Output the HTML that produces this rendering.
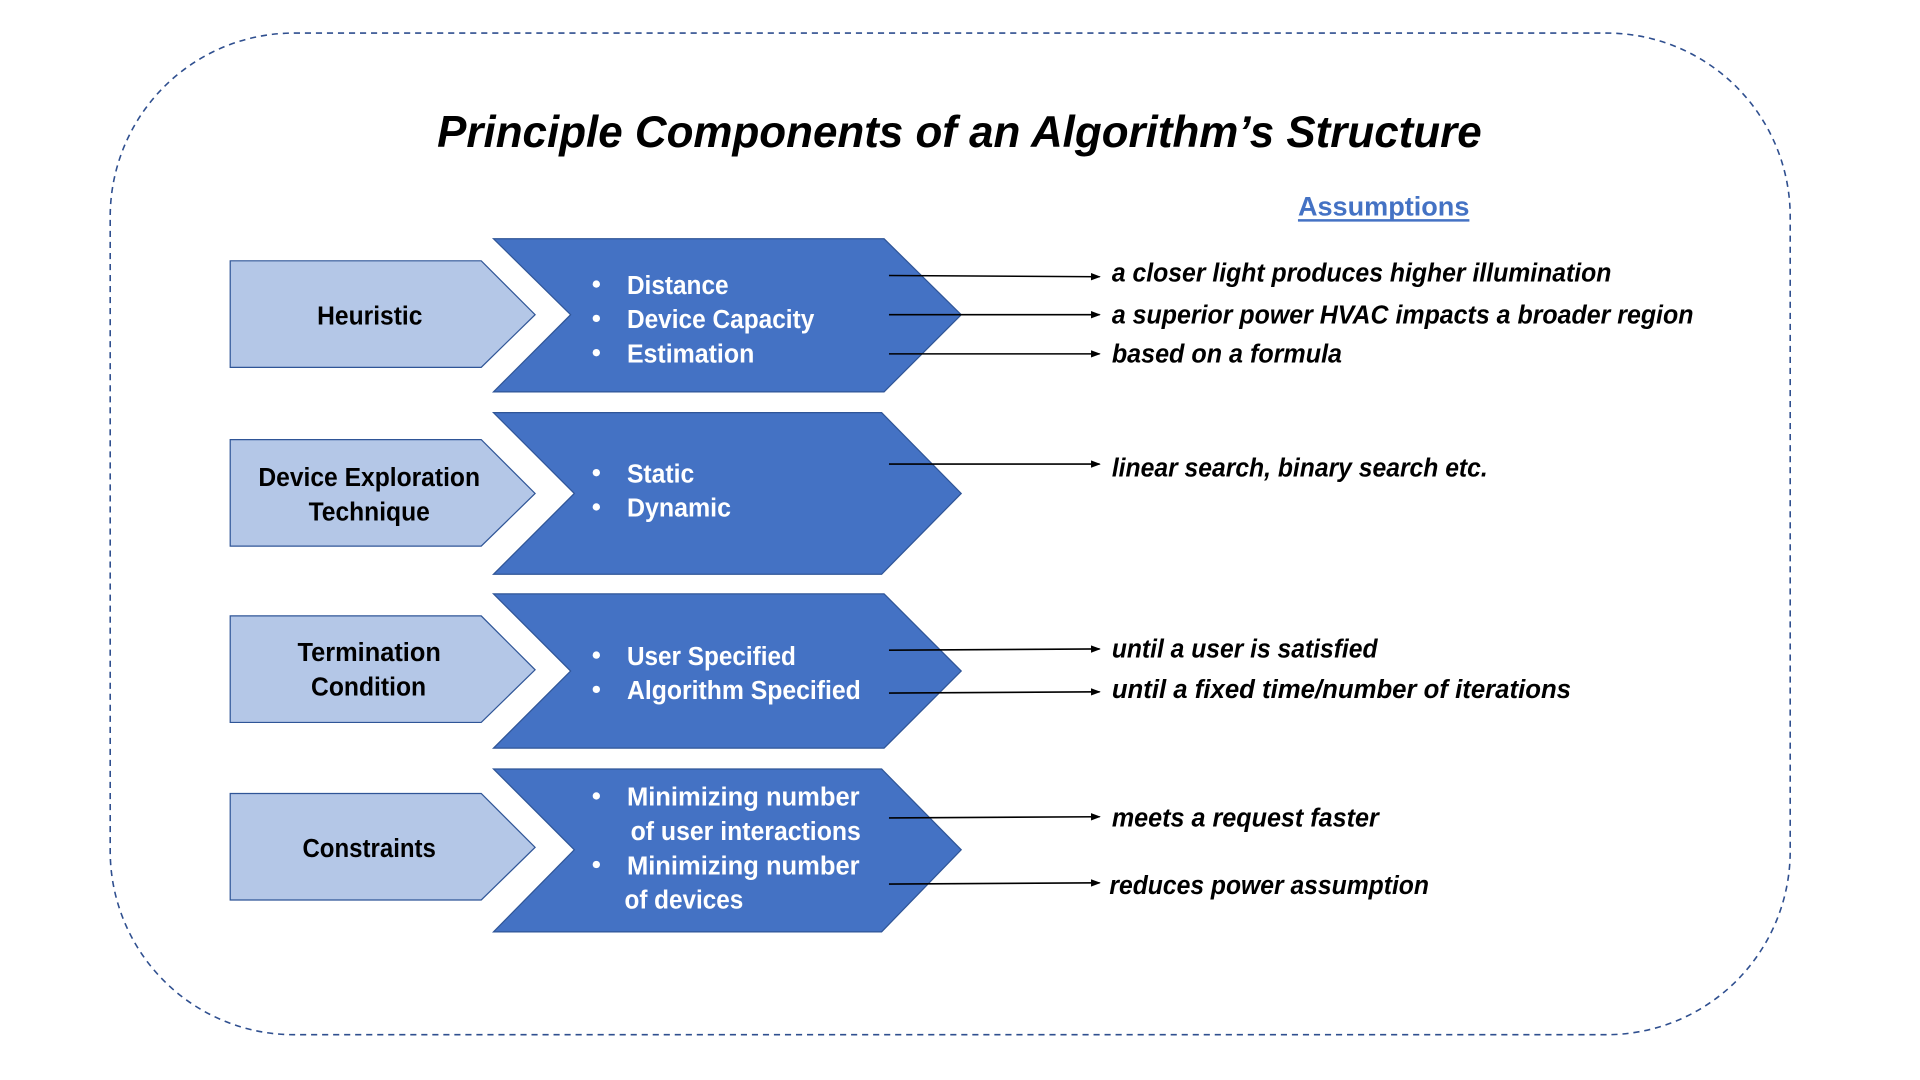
<!DOCTYPE html>
<html><head><meta charset="utf-8"><style>
html,body{margin:0;padding:0;background:#fff;}
svg{display:block;}
text{font-family:"Liberation Sans",sans-serif;font-weight:bold;}
.w{fill:#fff;font-size:21px;}
.k{fill:#000;font-size:21px;}
.i{fill:#000;font-size:21px;font-style:italic;}
</style></head><body>
<svg width="1920" height="1080" viewBox="0 0 1568 882" xmlns="http://www.w3.org/2000/svg">
<defs><marker id="a" markerWidth="8" markerHeight="8" refX="7" refY="4" orient="auto" markerUnits="userSpaceOnUse"><path d="M0,1 L8,4 L0,7z" fill="#000"/></marker></defs>
<rect x="90" y="27" width="1372" height="818" rx="150" ry="150" fill="none" stroke="#2f4f8f" stroke-width="1.3" stroke-dasharray="5,4"/>
<text x="357" y="120" font-size="36" font-style="italic" textLength="853" lengthAdjust="spacingAndGlyphs" fill="#000">Principle Components of an Algorithm’s Structure</text>
<text x="1060" y="176" font-size="22" fill="#4472c4" textLength="140" lengthAdjust="spacingAndGlyphs">Assumptions</text>
<line x1="1060" y1="180" x2="1200" y2="180" stroke="#4472c4" stroke-width="2"/>
<g fill="#b4c7e7" stroke="#2f5597" stroke-width="1">
<polygon points="188,213 393,213 437,257 393,300 188,300"/>
<polygon points="188,359 393,359 437,403 393,446 188,446"/>
<polygon points="188,503 393,503 437,547 393,590 188,590"/>
<polygon points="188,648 393,648 437,692 393,735 188,735"/>
</g>
<g fill="#4472c4" stroke="#2f5597" stroke-width="1">
<polygon points="403,195 722,195 785,257 722,320 403,320 466,257"/>
<polygon points="403,337 720,337 785,403 720,469 403,469 469,403"/>
<polygon points="403,485 722,485 785,548 722,611 403,611 466,548"/>
<polygon points="403,628 720,628 785,694 720,761 403,761 469,694"/>
</g>
<text x="259" y="265" class="k" textLength="86" lengthAdjust="spacingAndGlyphs">Heuristic</text>
<text x="211" y="397" class="k" textLength="181" lengthAdjust="spacingAndGlyphs">Device Exploration</text>
<text x="252" y="425" class="k" textLength="99" lengthAdjust="spacingAndGlyphs">Technique</text>
<text x="243" y="540" class="k" textLength="117" lengthAdjust="spacingAndGlyphs">Termination</text>
<text x="254" y="568" class="k" textLength="94" lengthAdjust="spacingAndGlyphs">Condition</text>
<text x="247" y="700" class="k" textLength="109" lengthAdjust="spacingAndGlyphs">Constraints</text>
<g fill="#fff">
<circle cx="487" cy="232" r="3"/><circle cx="487" cy="260" r="3"/><circle cx="487" cy="288" r="3"/>
<circle cx="487" cy="386" r="3"/><circle cx="487" cy="414" r="3"/>
<circle cx="487" cy="535" r="3"/><circle cx="487" cy="563" r="3"/>
<circle cx="487" cy="650" r="3"/><circle cx="487" cy="706" r="3"/>
</g>
<text class="w" x="512" y="240" textLength="83" lengthAdjust="spacingAndGlyphs">Distance</text>
<text class="w" x="512" y="268" textLength="153" lengthAdjust="spacingAndGlyphs">Device Capacity</text>
<text class="w" x="512" y="296" textLength="104" lengthAdjust="spacingAndGlyphs">Estimation</text>
<text class="w" x="512" y="394" textLength="55" lengthAdjust="spacingAndGlyphs">Static</text>
<text class="w" x="512" y="422" textLength="85" lengthAdjust="spacingAndGlyphs">Dynamic</text>
<text class="w" x="512" y="543" textLength="138" lengthAdjust="spacingAndGlyphs">User Specified</text>
<text class="w" x="512" y="571" textLength="191" lengthAdjust="spacingAndGlyphs">Algorithm Specified</text>
<text class="w" x="512" y="658" textLength="190" lengthAdjust="spacingAndGlyphs">Minimizing number</text>
<text class="w" x="515" y="686" textLength="188" lengthAdjust="spacingAndGlyphs">of user interactions</text>
<text class="w" x="512" y="714" textLength="190" lengthAdjust="spacingAndGlyphs">Minimizing number</text>
<text class="w" x="510" y="742" textLength="97" lengthAdjust="spacingAndGlyphs">of devices</text>
<g stroke="#000" stroke-width="1.3" marker-end="url(#a)">
<line x1="726" y1="225" x2="898" y2="226"/>
<line x1="726" y1="257" x2="898" y2="257"/>
<line x1="726" y1="289" x2="898" y2="289"/>
<line x1="726" y1="379" x2="898" y2="379"/>
<line x1="726" y1="531" x2="898" y2="530"/>
<line x1="726" y1="566" x2="898" y2="565"/>
<line x1="726" y1="668" x2="898" y2="667"/>
<line x1="726" y1="722" x2="898" y2="721"/>
</g>
<text class="i" x="908" y="230" textLength="408" lengthAdjust="spacingAndGlyphs">a closer light produces higher illumination</text>
<text class="i" x="908" y="264" textLength="475" lengthAdjust="spacingAndGlyphs">a superior power HVAC impacts a broader region</text>
<text class="i" x="908" y="296" textLength="188" lengthAdjust="spacingAndGlyphs">based on a formula</text>
<text class="i" x="908" y="389" textLength="307" lengthAdjust="spacingAndGlyphs">linear search, binary search etc.</text>
<text class="i" x="908" y="537" textLength="217" lengthAdjust="spacingAndGlyphs">until a user is satisfied</text>
<text class="i" x="908" y="570" textLength="375" lengthAdjust="spacingAndGlyphs">until a fixed time/number of iterations</text>
<text class="i" x="908" y="675" textLength="218" lengthAdjust="spacingAndGlyphs">meets a request faster</text>
<text class="i" x="906" y="730" textLength="261" lengthAdjust="spacingAndGlyphs">reduces power assumption</text>
</svg>
</body></html>
